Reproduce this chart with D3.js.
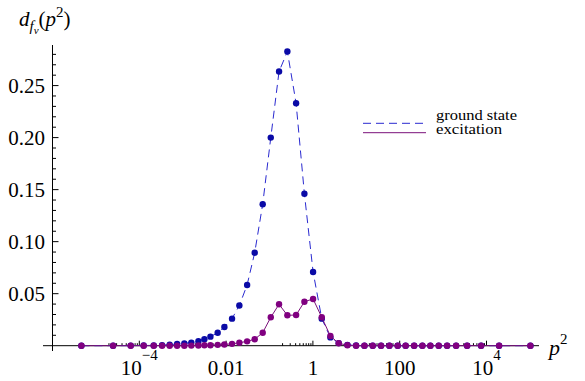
<!DOCTYPE html>
<html><head><meta charset="utf-8">
<script src="https://cdn.jsdelivr.net/npm/d3@7"></script>
<style>
html,body{margin:0;padding:0;background:#fff;}
svg{display:block;}
svg text{font-family:"Liberation Serif","DejaVu Serif","Times New Roman",serif;}
</style></head>
<body><svg id="c" width="585" height="381"></svg>
<script>
// p^2 sample points (shared by both series)
const p2 = [4.63e-6, 2.49e-5, 6.34e-5, 1.26e-4, 2.15e-4, 3.35e-4, 5.01e-4, 7.43e-4, 1.09e-3, 1.58e-3,
  2.30e-3, 3.16e-3, 4.35e-3, 6.40e-3, 9.14e-3, 1.37e-2, 2.02e-2, 3.05e-2, 4.56e-2, 6.97e-2,
  0.107, 0.166, 0.258, 0.410, 0.637, 1.01, 1.60, 2.53, 3.93, 6.24,
  9.89, 15.4, 23.9, 37.2, 57.9, 89.9, 137, 215, 333, 509,
  792, 1236, 1995, 3573, 7516, 19500, 102800];
const groundState = [0, 0, 0.0001, 0.0002, 0.0003, 0.0006, 0.001, 0.0016, 0.0022, 0.003,
  0.0043, 0.0062, 0.0087, 0.0125, 0.018, 0.026, 0.0387, 0.0584, 0.0894, 0.136,
  0.200, 0.2635, 0.2827, 0.233, 0.146, 0.0709, 0.026, 0.008, 0.0025, 0.0008,
  0.0002, 0, 0, 0, 0, 0, 0, 0, 0, 0,
  0, 0, 0, 0, 0, 0, 0];
const excitation = [0, 0, 0, 0, 0, 0, 0, 0, 0, 0.0001,
  0.0002, 0.0004, 0.0005, 0.0008, 0.0012, 0.0018, 0.0028, 0.0042, 0.0062, 0.0125,
  0.0273, 0.0398, 0.0292, 0.0295, 0.0423, 0.0449, 0.0273, 0.0093, 0.0023, 0.0005,
  0, 0, 0, 0, 0, 0, 0, 0, 0, 0,
  0, 0, 0, 0, 0, 0, 0];
const yTicks = [0.05, 0.10, 0.15, 0.20, 0.25];
const yTickLabels = ["0.05", "0.10", "0.15", "0.20", "0.25"];
const xTicks = [1e-4, 1e-2, 1, 1e2, 1e4];
const xTickLabels = [["10", "\u22124"], ["0.01", null], ["1", null], ["100", null], ["10", "4"]];
const seriesNames = ["ground state", "excitation"];

const FONT = "'Liberation Serif','DejaVu Serif','Times New Roman',serif";
const svg = d3.select("#c").attr("font-family", FONT);
const x = d3.scaleLog().domain([1e-6, 1.62e5]).range([52.5, 539]);
const y = d3.scaleLinear().domain([0, 0.289]).range([345.7, 45]);

const blueLine = "#2a2ad0", bluePt = "#0a0aa6";
const purpLine = "#7a107a", purpPt = "#800080";

// axes
const ax = svg.append("g").attr("stroke", "#000").attr("stroke-width", 1);
ax.append("line").attr("x1", 43).attr("x2", 539).attr("y1", y(0)).attr("y2", y(0));
ax.append("line").attr("x1", x(1e-6)).attr("x2", x(1e-6)).attr("y1", 45).attr("y2", 351);

// y ticks
const yMinor = d3.range(1, 29).map(i => i / 100);
ax.selectAll("line.ym").data(yMinor).enter().append("line")
  .attr("x1", x(1e-6)).attr("x2", d => x(1e-6) + (Math.round(d * 100) % 5 === 0 ? 6 : 3.5))
  .attr("y1", d => y(d)).attr("y2", d => y(d));
svg.selectAll("text.yl").data(yTicks).enter().append("text")
  .attr("font-family", FONT)
  .attr("x", 45).attr("y", d => y(d) + 7).attr("text-anchor", "end")
  .attr("font-size", 21).text((d, i) => yTickLabels[i]);

// x ticks
const xMinor = [];
[-5, -3, -1, 1, 3].forEach(e => { for (let k = 2; k <= 9; k++) xMinor.push(k * Math.pow(10, e)); });
ax.selectAll("line.xm").data(xMinor).enter().append("line")
  .attr("x1", d => x(d)).attr("x2", d => x(d)).attr("y1", y(0)).attr("y2", y(0) - 2.5);
ax.selectAll("line.xM").data(xTicks).enter().append("line")
  .attr("x1", d => x(d)).attr("x2", d => x(d)).attr("y1", y(0)).attr("y2", y(0) - 5);
xTicks.forEach((t, i) => {
  const [base, sup] = xTickLabels[i];
  const g = svg.append("text").attr("font-family", FONT).attr("font-size", 21).attr("y", 375)
    .attr("text-anchor", "middle").attr("x", x(t));
  g.append("tspan").text(base);
  if (sup) g.append("tspan").attr("font-size", 15).attr("dy", -15).text(sup);
});

// axis labels
const xl = svg.append("text").attr("font-family", FONT).attr("x", 549).attr("y", 355).attr("font-size", 22);
xl.append("tspan").attr("font-style", "italic").text("p");
xl.append("tspan").attr("font-size", 15).attr("dy", -11).text("2");

const yl = svg.append("text").attr("font-family", FONT).attr("x", 19).attr("y", 26).attr("font-size", 21);
yl.append("tspan").attr("font-style", "italic").text("d");
yl.append("tspan").attr("font-style", "italic").attr("font-size", 15).attr("dy", 5).text("f");
yl.append("tspan").attr("font-style", "italic").attr("font-size", 11).attr("dy", 3).text("v");
yl.append("tspan").attr("dy", -8).text("(");
yl.append("tspan").attr("font-style", "italic").text("p");
yl.append("tspan").attr("font-size", 15).attr("dy", -9).text("2");
yl.append("tspan").attr("dy", 9).text(")");

// series
const line = d3.line().x(d => x(d[0])).y(d => y(d[1]));
const gData = p2.map((p, i) => [p, groundState[i]]);
const eData = p2.map((p, i) => [p, excitation[i]]);

svg.append("path").datum(gData).attr("d", line).attr("fill", "none")
  .attr("stroke", blueLine).attr("stroke-width", 1).attr("stroke-dasharray", "8,5");
svg.selectAll("circle.g").data(gData).enter().append("circle")
  .attr("cx", d => x(d[0])).attr("cy", d => y(d[1])).attr("r", 3.2).attr("fill", bluePt);

svg.append("path").datum(eData).attr("d", line).attr("fill", "none")
  .attr("stroke", purpLine).attr("stroke-width", 1);
svg.selectAll("circle.e").data(eData).enter().append("circle")
  .attr("cx", d => x(d[0])).attr("cy", d => y(d[1])).attr("r", 3.2).attr("fill", purpPt);

// legend
const lg = svg.append("g");
lg.append("line").attr("x1", 363).attr("x2", 426).attr("y1", 123.3).attr("y2", 123.3)
  .attr("stroke", blueLine).attr("stroke-dasharray", "8,5");
lg.append("line").attr("x1", 363).attr("x2", 426).attr("y1", 132.7).attr("y2", 132.7)
  .attr("stroke", purpLine);
lg.append("text").attr("font-family", FONT).attr("x", 436).attr("y", 120).attr("font-size", 14)
  .attr("textLength", 81).attr("lengthAdjust", "spacingAndGlyphs").text(seriesNames[0]);
lg.append("text").attr("font-family", FONT).attr("x", 436).attr("y", 134).attr("font-size", 14)
  .attr("textLength", 66).attr("lengthAdjust", "spacingAndGlyphs").text(seriesNames[1]);
</script></body></html>
